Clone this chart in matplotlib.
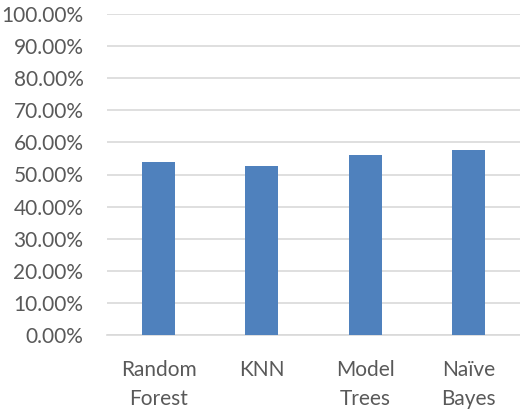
import numpy as np
import matplotlib.pyplot as plt
from matplotlib.ticker import PercentFormatter

categories = ['Random\nForest', 'KNN', 'Model\nTrees', 'Naïve\nBayes']
accuracy = [53.8, 52.5, 56.0, 57.6]          # 百分比
yticks = np.arange(0, 101, 10)

plt.rcParams['font.family'] = ['Lato', 'DejaVu Sans']

fig = plt.figure(figsize=(5.2, 4.12), dpi=100)
ax = fig.add_axes([107 / 520, 1 - 335 / 412, 413 / 520, 321 / 412])

x = np.arange(len(categories))
ax.bar(x, accuracy, width=0.32, color='#4F81BD', zorder=3)

ax.set_xlim(-0.5, len(categories) - 0.5)
ax.set_ylim(0, 100)
ax.set_yticks(yticks)
ax.yaxis.set_major_formatter(PercentFormatter(decimals=2))
ax.set_xticks(x)
ax.set_xticklabels(categories, linespacing=1.55)

ax.grid(axis='y', color='#D9D9D9', linewidth=1.2, zorder=0)
for s in ['top', 'right', 'left']:
    ax.spines[s].set_visible(False)
ax.spines['bottom'].set_color('#D9D9D9')
ax.spines['bottom'].set_linewidth(1.2)
ax.tick_params(axis='both', length=0, colors='#595959', labelsize=15)
ax.tick_params(axis='y', pad=17)
ax.tick_params(axis='x', pad=18)

plt.savefig('out.png')
